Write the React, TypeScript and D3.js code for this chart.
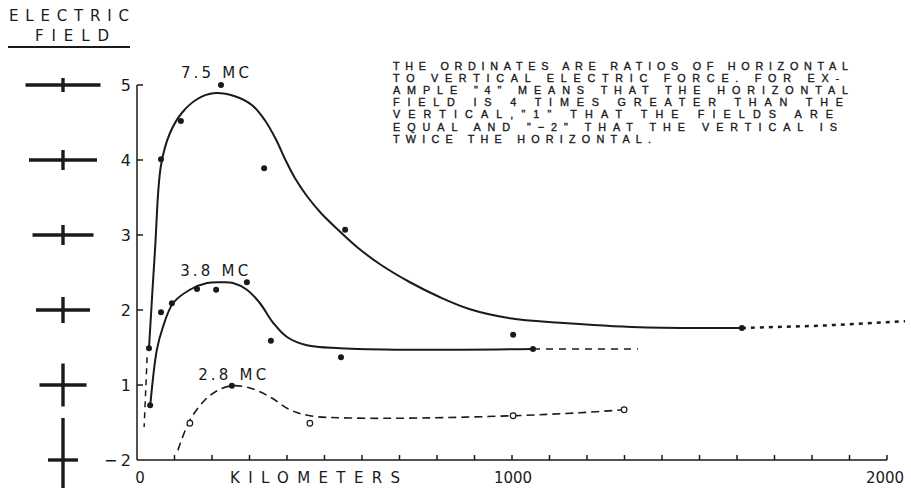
import React from "react";
import * as d3 from "d3";

// ---------- DATA ----------
// y positions: evenly spaced ordinate levels; label for each level
const yLevels = [0, 1, 2, 3, 4, 5];
const yLabels = ["−2", "1", "2", "3", "4", "5"];
// relative arm lengths of the field crosses (horizontal vs vertical) per level
const fieldH = [30, 47, 54, 61, 68, 75];
const fieldV = [84, 43, 26, 20, 20, 14];

const xTicks = d3.range(0, 2001, 100);
const xLabels: [number, string][] = [[0, "0"], [1000, "1000"], [2000, "2000"]];

// 7.5 MC
const mc75Points: [number, number][] = [
  [32, 1.49], [64, 4.01], [117, 4.52], [224, 5.0], [339, 3.89], [555, 3.07], [1003, 1.67], [1613, 1.76],
];
const mc75Curve: [number, number][] = [
  [32, 1.49], [48, 2.8], [64, 3.93], [88, 4.36], [120, 4.63], [160, 4.81], [203, 4.89], [261, 4.85],
  [307, 4.73], [341, 4.53], [371, 4.27], [395, 4.01], [421, 3.76], [453, 3.52], [491, 3.29],
  [536, 3.07], [589, 2.83], [648, 2.61], [728, 2.37], [808, 2.17], [888, 2.01], [995, 1.89],
  [1128, 1.83], [1341, 1.77], [1613, 1.76],
];
const mc75Ext: [number, number][] = [[1613, 1.76], [1821, 1.79], [2048, 1.85]];
const mc75Low: [number, number][] = [[27, 1.37], [19, 0.44]];

// 3.8 MC
const mc38Points: [number, number][] = [
  [35, 0.73], [64, 1.97], [93, 2.09], [160, 2.28], [211, 2.27], [293, 2.37], [357, 1.59], [544, 1.37], [1056, 1.48],
];
const mc38Curve: [number, number][] = [
  [35, 0.71], [53, 1.47], [69, 1.77], [96, 2.09], [141, 2.27], [187, 2.36], [227, 2.37], [256, 2.36],
  [293, 2.27], [328, 2.09], [363, 1.83], [400, 1.64], [453, 1.53], [541, 1.49], [720, 1.47], [1056, 1.48],
];
const mc38Ext: [number, number][] = [[1056, 1.48], [1336, 1.48]];

// 2.8 MC
const mc28Filled: [number, number][] = [[253, 0.99]];
const mc28Open: [number, number][] = [[141, 0.49], [461, 0.49], [1003, 0.59], [1299, 0.67]];
const mc28Curve: [number, number][] = [
  [109, 0.13], [141, 0.53], [181, 0.8], [216, 0.93], [253, 0.99], [301, 0.96], [355, 0.84], [408, 0.67],
  [461, 0.59], [568, 0.56], [755, 0.56], [1003, 0.59], [1181, 0.63], [1299, 0.67],
];

// label text, left km, level
const seriesLabels: [string, number, number][] = [
  ["7.5 MC", 117, 5.17],
  ["3.8 MC", 115, 2.53],
  ["2.8 MC", 163, 1.15],
];

const noteLines = [
  "THE ORDINATES ARE RATIOS OF HORIZONTAL",
  "TO VERTICAL ELECTRIC FORCE.  FOR EX-",
  "AMPLE \"4\" MEANS THAT  THE HORIZONTAL",
  "FIELD IS 4 TIMES GREATER  THAN  THE",
  "VERTICAL,\"1\" THAT  THE FIELDS ARE",
  "EQUAL AND \"−2\" THAT THE VERTICAL IS",
  "TWICE THE HORIZONTAL.",
];
const noteWidths = [455, 446, 455, 450, 440, 444, 258];

// ---------- LAYOUT ----------
const W = 911;
const H = 488;
const x = d3.scaleLinear().domain([0, 2000]).range([137, 887]);
const y = d3.scaleLinear().domain([0, 5]).range([460, 85]);
const INK = "#1a1a1a";
const FONT = "DejaVu Sans, sans-serif";

const line = d3
  .line<[number, number]>()
  .x((d) => x(d[0]))
  .y((d) => y(d[1]))
  .curve(d3.curveCatmullRom.alpha(0.5));
const straight = d3
  .line<[number, number]>()
  .x((d) => x(d[0]))
  .y((d) => y(d[1]));

export default function App() {
  const iconX = 63;
  return (
    <svg
      width={W}
      height={H}
      style={{ position: "absolute", left: 0, top: 0, background: "#fff" }}
      fontFamily={FONT}
    >
      <rect width={W} height={H} fill="#fff" />
      {/* ELECTRIC FIELD header */}
      <text x={69} y={21} fontSize={15} textAnchor="middle" fill={INK} textLength={120} lengthAdjust="spacing">
        ELECTRIC
      </text>
      <text x={72} y={41} fontSize={15} textAnchor="middle" fill={INK} textLength={74} lengthAdjust="spacing">
        FIELD
      </text>
      <line x1={8} x2={130} y1={47} y2={47} stroke={INK} strokeWidth={2} />

      {/* field crosses */}
      {yLevels.map((lv, i) => (
        <g key={"ic" + i} stroke={INK} strokeWidth={3.4}>
          <line x1={iconX - fieldH[i] / 2} x2={iconX + fieldH[i] / 2} y1={y(lv)} y2={y(lv)} />
          <line x1={iconX} x2={iconX} y1={y(lv) - fieldV[i] / 2} y2={y(lv) + fieldV[i] / 2} />
        </g>
      ))}

      {/* axes */}
      <line x1={x(0)} x2={x(0)} y1={y(5)} y2={y(0)} stroke={INK} strokeWidth={1.5} />
      <line x1={x(0)} x2={x(2000)} y1={y(0)} y2={y(0)} stroke={INK} strokeWidth={1.5} />
      <line x1={x(2000)} x2={x(2000)} y1={y(0)} y2={y(0) - 5} stroke={INK} strokeWidth={1.5} />
      {yLevels.slice(1).map((lv) => (
        <line key={"yt" + lv} x1={x(0)} x2={x(0) + 6} y1={y(lv)} y2={y(lv)} stroke={INK} strokeWidth={1.5} />
      ))}
      {yLevels.map((lv, i) => (
        <text
          key={"yl" + lv}
          x={131}
          y={y(lv) + 6}
          fontSize={16}
          textAnchor="end"
          fill={INK}
          textLength={lv === 0 ? 27 : undefined}
          lengthAdjust="spacing"
        >
          {yLabels[i]}
        </text>
      ))}
      {xTicks.slice(1, -1).map((t) => (
        <line key={"xt" + t} x1={x(t)} x2={x(t)} y1={y(0)} y2={y(0) - 5} stroke={INK} strokeWidth={1.5} />
      ))}
      {xLabels.map(([v, s]) => (
        <text key={"xl" + v} x={x(v) + (v === 0 ? 3 : v === 1000 ? 1 : -2)} y={483} fontSize={15} textAnchor="middle" fill={INK}>
          {s}
        </text>
      ))}
      <text x={230} y={483} fontSize={15} fill={INK} textLength={170} lengthAdjust="spacing">
        KILOMETERS
      </text>

      {/* curves */}
      <path d={line(mc75Curve) || ""} fill="none" stroke={INK} strokeWidth={2} />
      <path d={straight(mc75Ext) || ""} fill="none" stroke={INK} strokeWidth={2.5} strokeDasharray="4 5" />
      <path d={straight(mc75Low) || ""} fill="none" stroke={INK} strokeWidth={1.5} strokeDasharray="6 5" />
      <path d={line(mc38Curve) || ""} fill="none" stroke={INK} strokeWidth={2} />
      <path d={straight(mc38Ext) || ""} fill="none" stroke={INK} strokeWidth={1.5} strokeDasharray="7 6" />
      <path d={line(mc28Curve) || ""} fill="none" stroke={INK} strokeWidth={1.6} strokeDasharray="8 5" />

      {/* points */}
      {[...mc75Points, ...mc38Points, ...mc28Filled].map((p, i) => (
        <circle key={"p" + i} cx={x(p[0])} cy={y(p[1])} r={3} fill={INK} />
      ))}
      {mc28Open.map((p, i) => (
        <circle key={"o" + i} cx={x(p[0])} cy={y(p[1])} r={2.8} fill="#fff" stroke={INK} strokeWidth={1.2} />
      ))}

      {/* series labels */}
      {seriesLabels.map(([s, km, pos]) => (
        <text
          key={s}
          x={x(km)}
          y={y(pos) + 6}
          fontSize={15}
          fill={INK}
          textLength={68}
          lengthAdjust="spacing"
        >
          {s}
        </text>
      ))}

      {/* note */}
      {noteLines.map((s, i) => (
        <text
          key={"n" + i}
          x={393}
          y={69.5 + i * 12.2}
          fontSize={10.8}
          fontFamily="Liberation Sans, Arial, sans-serif"
          fill={INK}
          stroke={INK}
          strokeWidth={0.35}
          textLength={noteWidths[i]}
          lengthAdjust="spacing"
        >
          {s}
        </text>
      ))}
    </svg>
  );
}
